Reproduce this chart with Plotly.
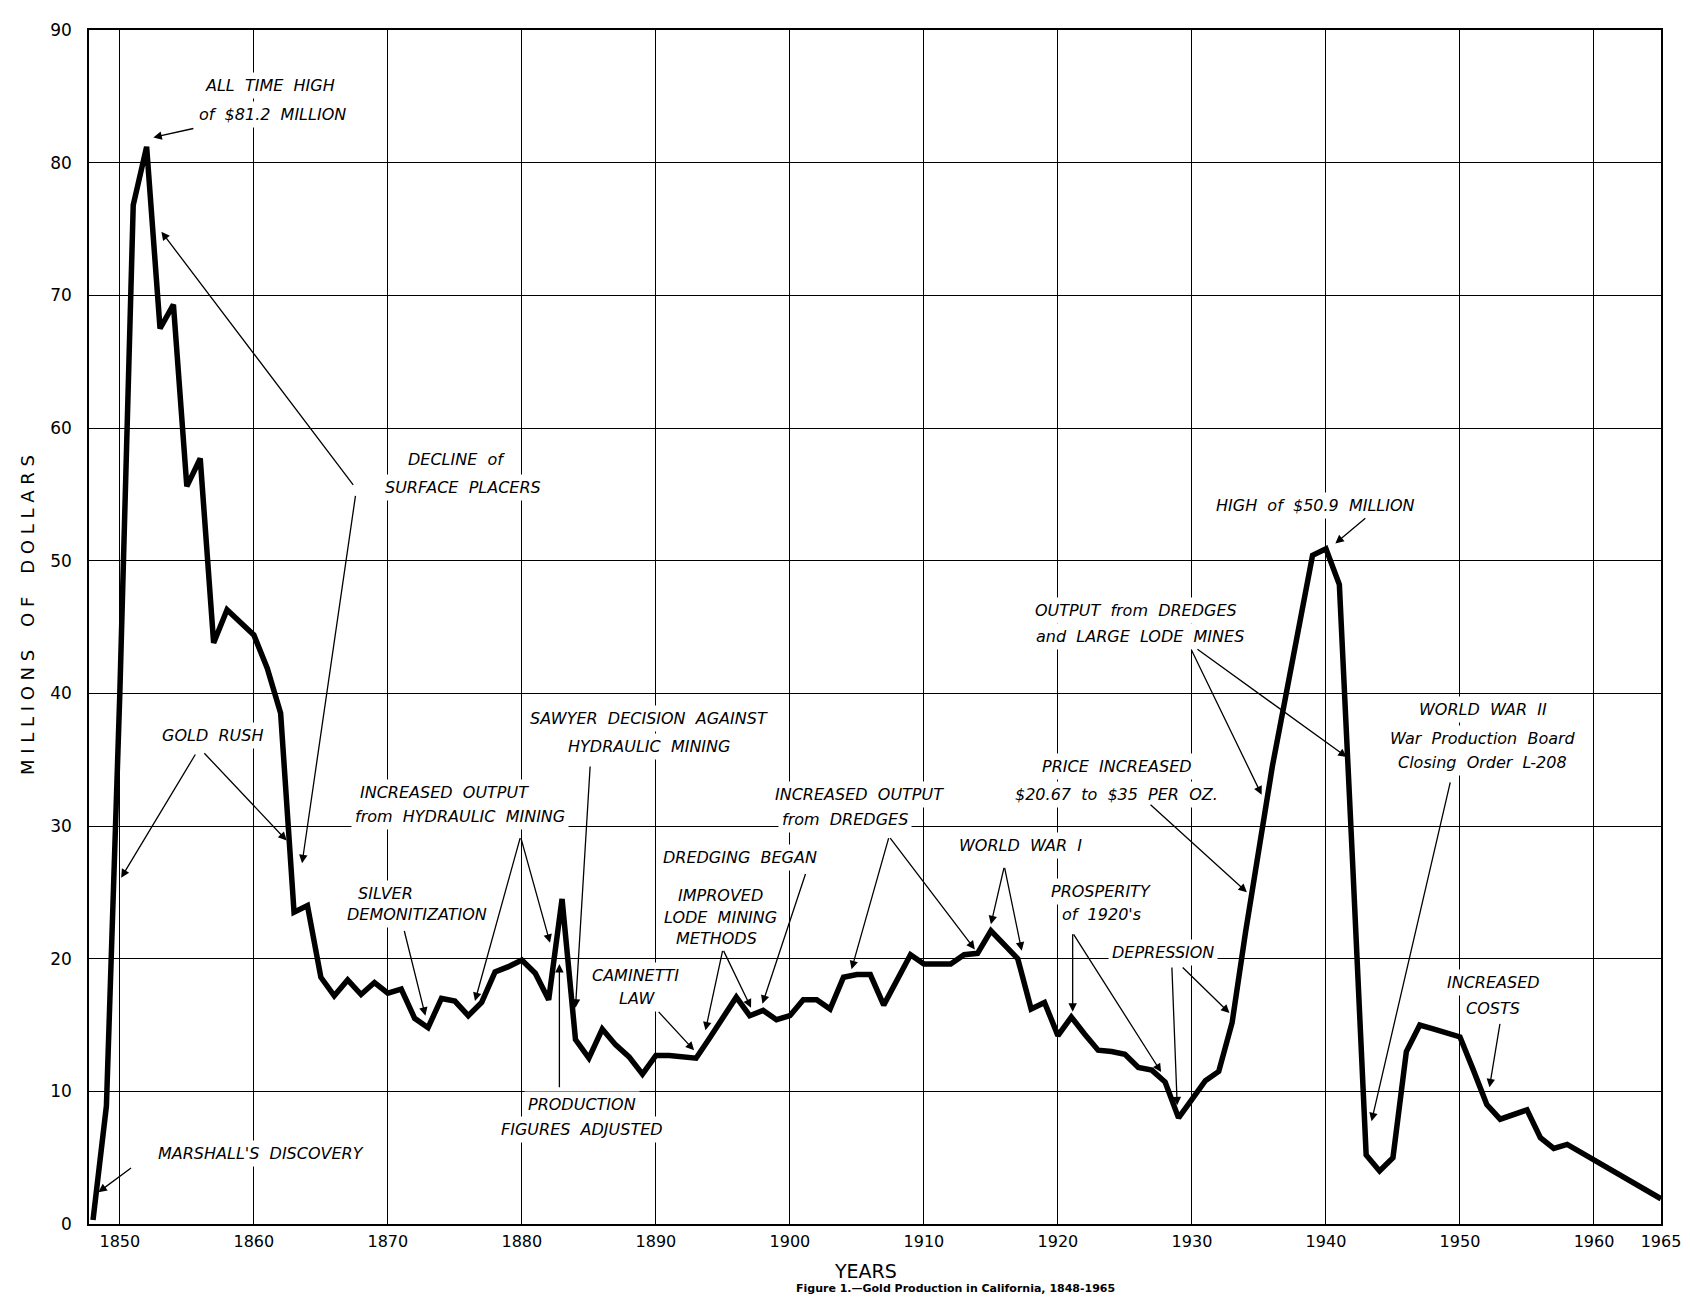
import plotly.graph_objects as go

# ---- data ----
years = [1848, 1849, 1850, 1851, 1852, 1853, 1854, 1855, 1856, 1857, 1858, 1859,
         1860, 1861, 1862, 1863, 1864, 1865, 1866, 1867, 1868, 1869,
         1870, 1871, 1872, 1873, 1874, 1875, 1876, 1877, 1878, 1879,
         1880, 1881, 1882, 1883, 1884, 1885, 1886, 1887, 1888, 1889,
         1890, 1891, 1892, 1893, 1894, 1895, 1896, 1897, 1898, 1899,
         1900, 1901, 1902, 1903, 1904, 1905, 1906, 1907, 1908, 1909,
         1910, 1911, 1912, 1913, 1914, 1915, 1916, 1917, 1918, 1919,
         1920, 1921, 1922, 1923, 1924, 1925, 1926, 1927, 1928, 1929,
         1930, 1931, 1932, 1933, 1934, 1935, 1936, 1937, 1938, 1939,
         1940, 1941, 1942, 1943, 1944, 1945, 1946, 1947, 1948, 1949,
         1950, 1951, 1952, 1953, 1954, 1955, 1956, 1957, 1958, 1965]
millions = [0.3, 8.9, 40.0, 76.8, 81.2, 67.5, 69.3, 55.6, 57.7, 43.8, 46.3, 45.4,
            44.4, 41.9, 38.5, 23.5, 24.0, 18.6, 17.2, 18.4, 17.3, 18.2,
            17.4, 17.7, 15.5, 14.8, 17.0, 16.8, 15.7, 16.7, 19.0, 19.4,
            19.9, 18.9, 16.9, 24.5, 13.9, 12.5, 14.7, 13.5, 12.6, 11.3,
            12.7, 12.7, 12.6, 12.5, 14.0, 15.5, 17.1, 15.7, 16.1, 15.4,
            15.7, 16.9, 16.9, 16.2, 18.6, 18.8, 18.8, 16.5, 18.4, 20.3,
            19.6, 19.6, 19.6, 20.3, 20.4, 22.1, 21.1, 20.0, 16.2, 16.7,
            14.2, 15.6, 14.3, 13.1, 13.0, 12.8, 11.8, 11.6, 10.7, 8.0,
            9.4, 10.8, 11.5, 15.2, 22.0, 28.5, 34.5, 39.8, 45.2, 50.4,
            50.9, 48.2, 27.0, 5.2, 4.0, 5.0, 13.0, 15.0, 14.7, 14.4,
            14.1, 11.6, 9.0, 7.9, 8.2, 8.6, 6.5, 5.7, 6.0, 1.9]

x_tick_values = [1850, 1860, 1870, 1880, 1890, 1900, 1910, 1920, 1930, 1940, 1950, 1960, 1965]
x_tick_labels = ["1850", "1860", "1870", "1880", "1890", "1900", "1910", "1920",
                 "1930", "1940", "1950", "1960", "1965"]
y_tick_values = [0, 10, 20, 30, 40, 50, 60, 70, 80, 90]

# annotation text lines: (text, year, value)
label_lines = [
    ("ALL  TIME  HIGH", 1861.2, 85.85),
    ("of  $81.2  MILLION", 1861.4, 83.6),
    ("DECLINE  of", 1875.1, 57.65),
    ("SURFACE  PLACERS", 1875.6, 55.55),
    ("GOLD  RUSH", 1856.9, 36.85),
    ("MARSHALL'S  DISCOVERY", 1860.5, 5.35),
    ("INCREASED  OUTPUT", 1874.25, 32.5),
    ("from  HYDRAULIC  MINING", 1875.4, 30.7),
    ("SILVER", 1869.8, 24.9),
    ("DEMONITIZATION", 1872.2, 23.3),
    ("SAWYER  DECISION  AGAINST", 1889.45, 38.1),
    ("HYDRAULIC  MINING", 1889.45, 36.0),
    ("DREDGING  BEGAN", 1896.3, 27.6),
    ("IMPROVED", 1894.8, 24.75),
    ("LODE  MINING", 1894.8, 23.1),
    ("METHODS", 1894.55, 21.5),
    ("CAMINETTI", 1888.5, 18.75),
    ("LAW", 1888.65, 17.0),
    ("PRODUCTION", 1884.45, 9.0),
    ("FIGURES  ADJUSTED", 1884.45, 7.1),
    ("INCREASED  OUTPUT", 1905.2, 32.35),
    ("from  DREDGES", 1904.1, 30.5),
    ("WORLD  WAR  I", 1917.2, 28.55),
    ("PRICE  INCREASED", 1924.4, 34.5),
    ("$20.67  to  $35  PER  OZ.", 1924.4, 32.4),
    ("PROSPERITY", 1923.25, 25.05),
    ("of  1920's", 1923.25, 23.3),
    ("DEPRESSION", 1927.85, 20.45),
    ("HIGH  of  $50.9  MILLION", 1939.2, 54.15),
    ("OUTPUT  from  DREDGES", 1925.85, 46.25),
    ("and  LARGE  LODE  MINES", 1926.1, 44.3),
    ("WORLD  WAR  II", 1951.7, 38.8),
    ("War  Production  Board", 1951.7, 36.6),
    ("Closing  Order  L-208", 1951.7, 34.75),
    ("INCREASED", 1952.5, 18.2),
    ("COSTS", 1952.5, 16.25),
]

# arrows: (tail year, tail value, head year, head value)
arrows = [
    (1855.6, 82.6, 1852.5, 81.9),
    (1867.5, 55.6, 1853.1, 74.8),
    (1867.6, 55.0, 1863.6, 27.2),
    (1855.7, 35.5, 1850.1, 26.1),
    (1856.2, 35.6, 1862.45, 28.9),
    (1850.95, 4.3, 1848.4, 2.4),
    (1879.9, 29.2, 1876.5, 16.8),
    (1879.9, 29.2, 1882.1, 21.2),
    (1871.2, 22.2, 1872.8, 15.7),
    (1885.1, 34.6, 1884.0, 16.3),
    (1882.8, 10.2, 1882.8, 19.6),
    (1901.2, 26.5, 1897.95, 16.6),
    (1895.0, 20.7, 1897.1, 16.3),
    (1895.0, 20.7, 1893.7, 14.6),
    (1890.1, 16.1, 1892.85, 13.1),
    (1907.4, 29.2, 1904.6, 19.2),
    (1907.4, 29.2, 1913.8, 20.7),
    (1916.0, 26.95, 1915.0, 22.6),
    (1916.0, 26.95, 1917.3, 20.6),
    (1921.1, 21.95, 1921.1, 16.0),
    (1921.1, 21.95, 1927.7, 11.45),
    (1928.5, 19.45, 1928.9, 8.95),
    (1929.2, 19.45, 1932.8, 15.9),
    (1926.8, 31.7, 1934.1, 25.0),
    (1929.9, 43.4, 1935.2, 32.35),
    (1930.3, 43.4, 1941.55, 35.2),
    (1943.05, 53.3, 1940.7, 51.3),
    (1949.3, 33.4, 1943.4, 7.75),
    (1953.0, 15.2, 1952.2, 10.3),
]

fig = go.Figure()
fig.add_trace(go.Scatter(
    x=years, y=millions, mode="lines",
    line=dict(color="black", width=5.5, shape="linear"),
    hoverinfo="x+y", showlegend=False,
))

annotations = []
for text, xv, yv in label_lines:
    annotations.append(dict(
        x=xv, y=yv, xref="x", yref="y", text="<i>" + text + "</i>",
        showarrow=False, xanchor="center", yanchor="middle",
        font=dict(family="DejaVu Sans", size=16, color="black"),
        bgcolor="white", borderpad=3,
    ))
for tx, ty, hx, hy in arrows:
    annotations.append(dict(
        x=hx, y=hy, xref="x", yref="y", ax=tx, ay=ty, axref="x", ayref="y",
        text="", showarrow=True, arrowhead=2, arrowsize=1.3, arrowwidth=1.3,
        arrowcolor="black", standoff=0, startstandoff=0,
    ))

annotations.append(dict(
    x=-0.0394, y=0.51, xref="paper", yref="paper", textangle=-90,
    text="M I L L I O N S    O F    D O L L A R S", showarrow=False,
    xanchor="center", yanchor="middle",
    font=dict(family="DejaVu Sans", size=18, color="black"),
))
annotations.append(dict(
    x=0.494, y=-0.039, xref="paper", yref="paper", text="YEARS",
    showarrow=False, xanchor="center", yanchor="middle",
    font=dict(family="DejaVu Sans", size=19, color="black"),
))
annotations.append(dict(
    x=0.5515, y=-0.061, xref="paper", yref="paper",
    text="<b>Figure 1.—Gold Production in California, 1848-1965</b>",
    showarrow=False, xanchor="center", yanchor="bottom",
    font=dict(family="DejaVu Sans", size=11, color="black"),
))

fig.update_layout(
    width=1690, height=1297,
    margin=dict(l=81, r=37, t=16, b=81),
    paper_bgcolor="white", plot_bgcolor="white",
    annotations=annotations,
    xaxis=dict(
        range=[1847.7, 1965], tickmode="array",
        tickvals=x_tick_values, ticktext=x_tick_labels,
        showgrid=True, gridcolor="black", gridwidth=1,
        showline=True, linecolor="black", linewidth=1.5, mirror=True,
        ticks="", zeroline=False, ticklabelstandoff=2,
        tickfont=dict(family="DejaVu Sans", size=16, color="black"),
    ),
    yaxis=dict(
        range=[0, 90], tickmode="array", tickvals=y_tick_values,
        showgrid=True, gridcolor="black", gridwidth=1,
        showline=True, linecolor="black", linewidth=1.5, mirror=True,
        ticks="", zeroline=False, ticklabelstandoff=12,
        tickfont=dict(family="DejaVu Sans", size=17, color="black"),
    ),
)

fig.write_html("out.html")
